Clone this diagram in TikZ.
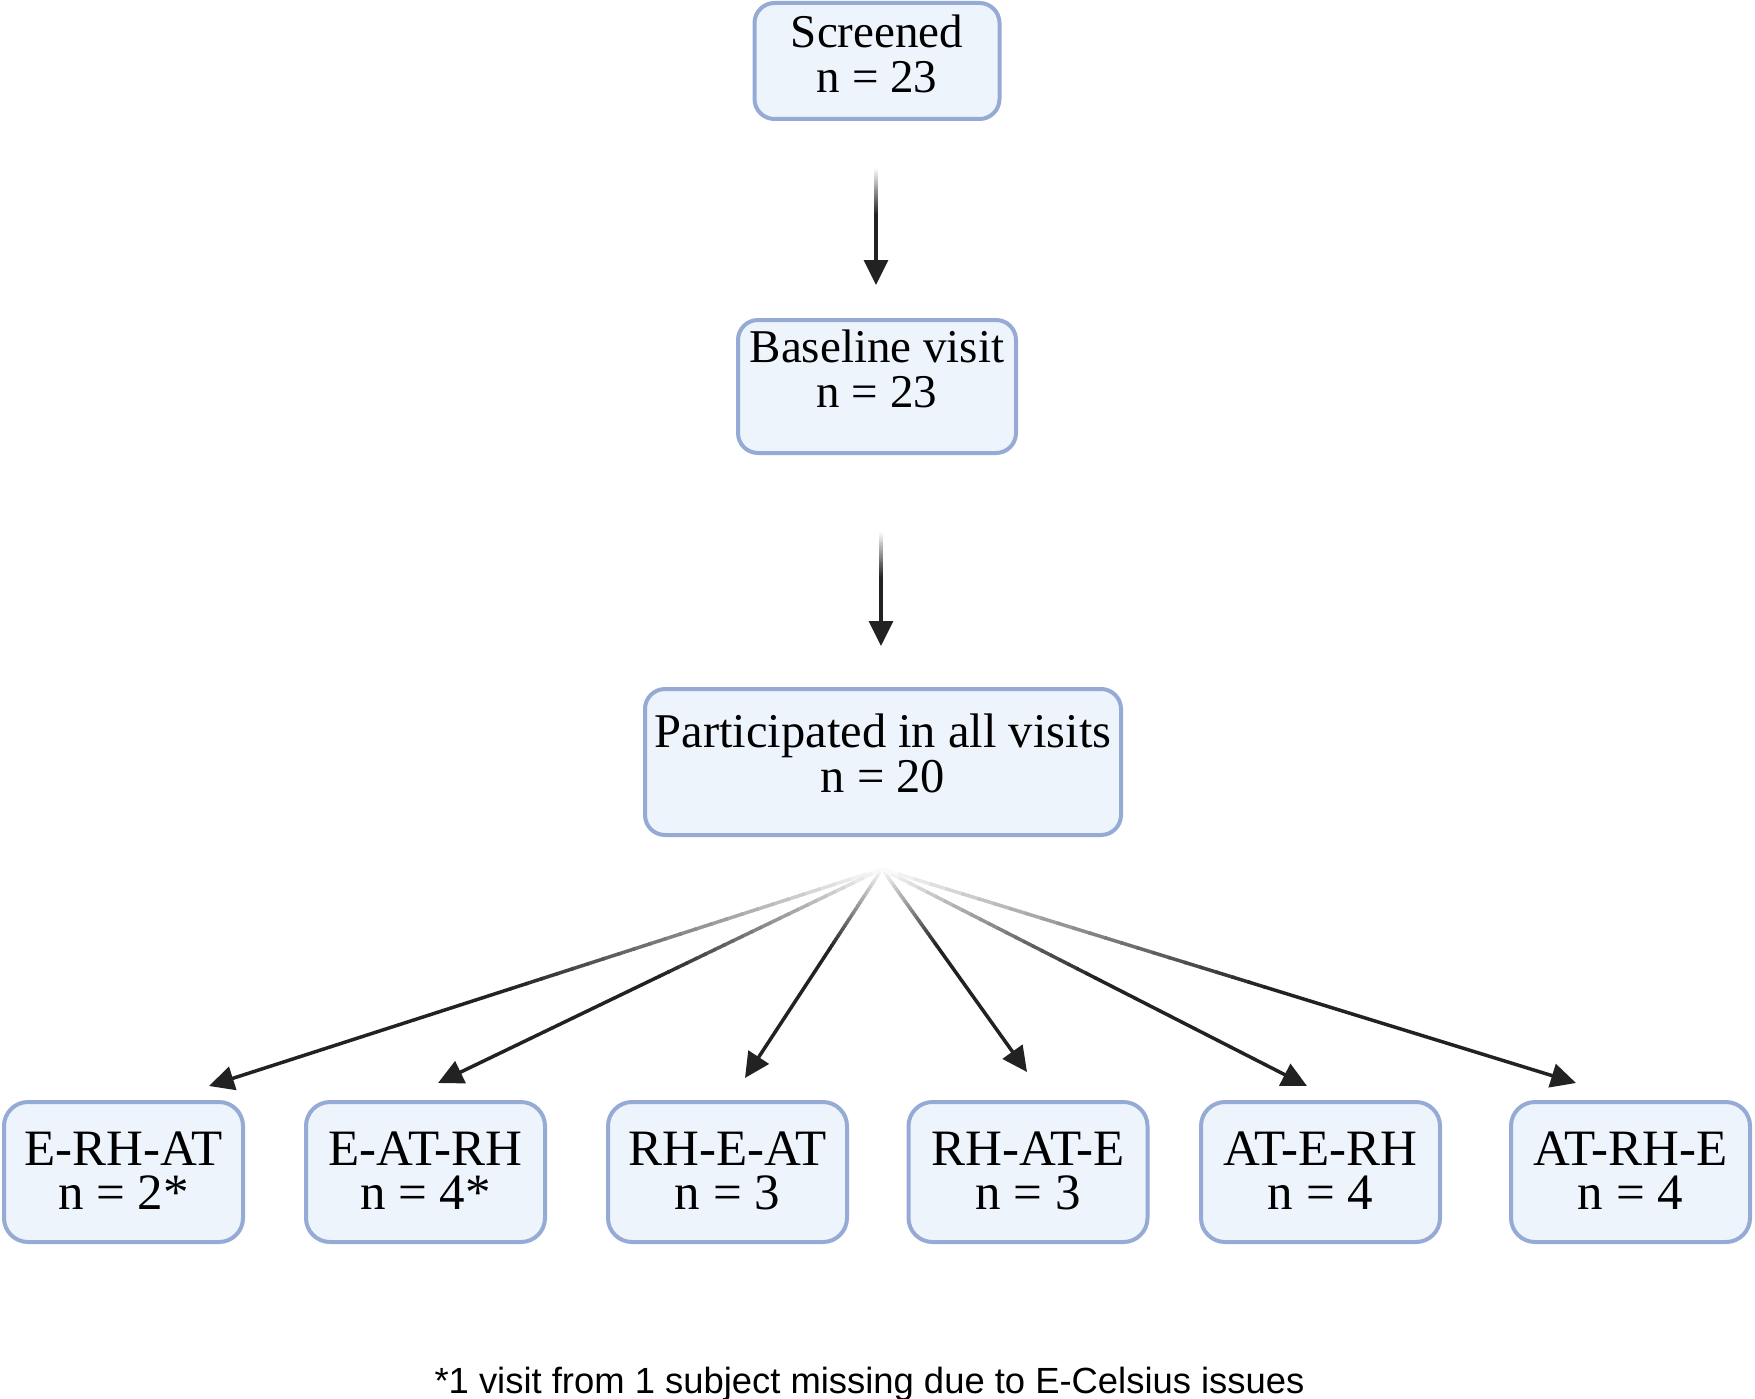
\documentclass[tikz,border=0pt]{standalone}
\usepackage{fontspec}
\setmainfont{Liberation Serif}
\newfontfamily\notefont{Liberation Sans}
\usetikzlibrary{arrows.meta,calc}
\definecolor{boxline}{HTML}{95ABD5}
\definecolor{boxfill}{HTML}{EEF4FC}
\definecolor{arrowdark}{HTML}{222222}
\newcommand{\lowstrut}[1]{\rule[-#1]{0pt}{0pt}}
% #1 start coordinate, #2 tip coordinate, #3 fraction of length that fades in
\newcommand{\fadearrow}[3]{%
  \foreach \i in {0,...,23}{%
    \pgfmathsetmacro\ta{\i/24*#3}%
    \pgfmathsetmacro\tb{(\i+1)/24*#3+0.003}%
    \pgfmathsetmacro\pc{(\i+0.5)/24*100}%
    \draw[fadeseg, draw=arrowdark!\pc!white] ($(#1)!\ta!(#2)$) -- ($(#1)!\tb!(#2)$);
  }%
  \draw[connector] ($(#1)!#3!(#2)$) -- (#2);%
}
\begin{document}
\begin{tikzpicture}[x=1pt,y=-1pt,
  flowbox/.style={draw=boxline, fill=boxfill, line width=4pt, rounded corners=20pt,
    align=center, inner sep=0pt, font=\fontsize{47}{45}\selectfont},
  groupbox/.style={flowbox, rounded corners=24pt, minimum width=239pt, minimum height=140pt,
    font=\fontsize{51}{44}\selectfont},
  connector/.style={draw=arrowdark, line width=3.5pt, line cap=butt,
    -{Triangle[length=25pt,width=24pt]}},
  fadeseg/.style={line width=3.5pt, line cap=butt},
  note/.style={font=\notefont\fontsize{36.4}{40}\selectfont, inner sep=0pt, anchor=base}]
\useasboundingbox (0,0) rectangle (1755,1399);

\node[flowbox, minimum width=245pt, minimum height=116pt] (scr) at (877,61)
  {Screened\\n = 23\lowstrut{15pt}};
\node[flowbox, minimum width=278pt, minimum height=133pt] (base) at (877,386.5)
  {Baseline visit\\n = 23\lowstrut{36pt}};
\node[flowbox, minimum width=476pt, minimum height=146pt, font=\fontsize{48.5}{45}\selectfont] (all) at (883,762)
  {Participated in all visits\\n = 20\lowstrut{17pt}};

\node[groupbox] (g1) at (123.5,1172) {E-RH-AT\\n = 2*\lowstrut{3pt}};
\node[groupbox] (g2) at (425.5,1172) {E-AT-RH\\n = 4*\lowstrut{3pt}};
\node[groupbox] (g3) at (727.5,1172) {RH-E-AT\\n = 3\lowstrut{3pt}};
\node[groupbox] (g4) at (1028,1172) {RH-AT-E\\n = 3\lowstrut{3pt}};
\node[groupbox] (g5) at (1320.5,1172) {AT-E-RH\\n = 4\lowstrut{3pt}};
\node[groupbox] (g6) at (1630.5,1172) {AT-RH-E\\n = 4\lowstrut{3pt}};

\node[note] (fn) at (869.5,1393) {*1 visit from 1 subject missing due to E-Celsius issues};

% connector end points
\coordinate (a1s) at (876,168);
\coordinate (a1e) at (876,285);
\coordinate (a2s) at (881,532);
\coordinate (a2e) at (881,646);
\coordinate (fan) at (882,869);
\coordinate (t1) at (209,1086);
\coordinate (t2) at (438,1083);
\coordinate (t3) at (745,1078);
\coordinate (t4) at (1027,1072);
\coordinate (t5) at (1307,1086);
\coordinate (t6) at (1576,1083);

\fadearrow{a1s}{a1e}{0.4}
\fadearrow{a2s}{a2e}{0.4}
\fadearrow{fan}{t1}{0.55}
\fadearrow{fan}{t2}{0.5}
\fadearrow{fan}{t3}{0.38}
\fadearrow{fan}{t4}{0.38}
\fadearrow{fan}{t5}{0.5}
\fadearrow{fan}{t6}{0.55}
\end{tikzpicture}
\end{document}
